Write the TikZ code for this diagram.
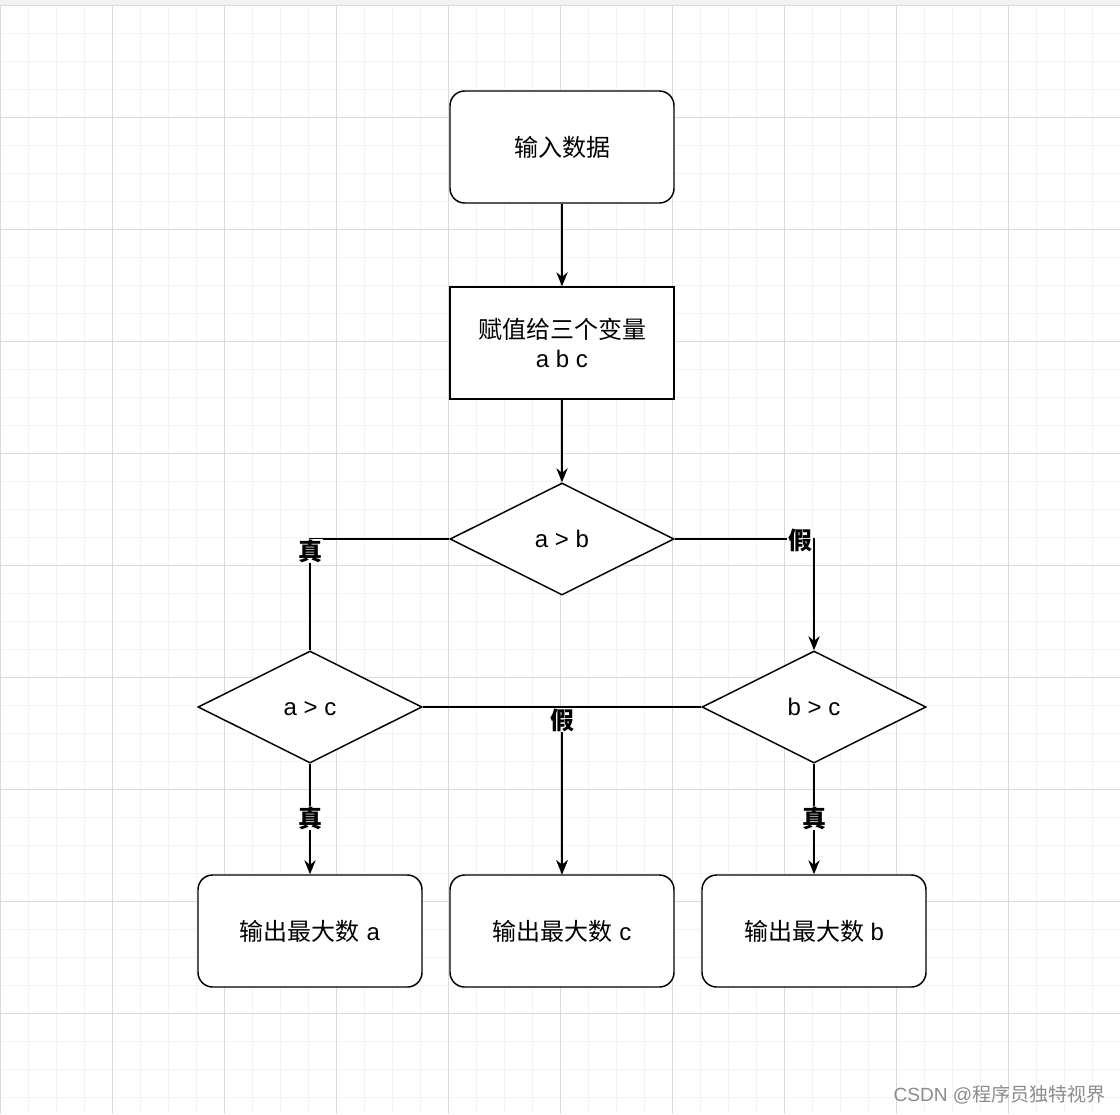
\documentclass[tikz,border=0pt]{standalone}
\usepackage{fontspec}
\setmainfont{Liberation Sans}
\newfontfamily\cjk{Noto Sans CJK SC}
\usetikzlibrary{shapes.geometric,arrows.meta}
\definecolor{minorgrid}{HTML}{F3F3F3}
\definecolor{majorgrid}{HTML}{DADADA}
\definecolor{wm}{HTML}{8C8C8C}
\begin{document}
\begin{tikzpicture}[x=0.75pt,y=-0.75pt,
  base/.style={draw=black, line width=1.1pt, fill=white, font=\fontsize{18pt}{22pt}\selectfont, align=center, inner sep=0pt},
  rbox/.style={base, rectangle, rounded corners=11pt, minimum width=168pt, minimum height=84pt},
  sbox/.style={base, rectangle, minimum width=168pt, minimum height=84pt},
  dbox/.style={base, diamond, aspect=2, minimum width=168pt, minimum height=84pt, text height=14pt, text depth=1.5pt},
  conn/.style={line width=1.1pt, draw=black},
  arr/.style={conn, -{Stealth[length=10.5pt,width=8.5pt]}},
  lab/.style={font=\cjk\bfseries\fontsize{18pt}{22pt}\selectfont, fill=white, inner sep=0.5pt}
]
\useasboundingbox (0,0) rectangle (1120,1114);
\fill[white] (0,0) rectangle (1120,1114);
\fill[black!5] (0,0) rectangle (1120,5);
% grid
\foreach \i in {0,...,40} \draw[minorgrid, line width=0.75pt] (28*\i,5) -- (28*\i,1114);
\foreach \j in {0,...,39} \draw[minorgrid, line width=0.75pt] (0,5+28*\j) -- (1120,5+28*\j);
\foreach \i in {0,...,10} \draw[majorgrid, line width=0.6pt] (112*\i,5) -- (112*\i,1114);
\foreach \j in {0,...,9} \draw[majorgrid, line width=0.6pt] (0,5+112*\j) -- (1120,5+112*\j);

% nodes
\node[rbox] (in) at (562,147) {\cjk 输入数据};
\node[sbox] (as) at (562,343) {\cjk 赋值给三个变量\\a b c};
\node[dbox] (ab) at (562,539) {a \textgreater{} b};
\node[dbox] (ac) at (310,707) {a \textgreater{} c};
\node[dbox] (bc) at (814,707) {b \textgreater{} c};
\node[rbox] (oa) at (310,931) {{\cjk 输出最大数} a};
\node[rbox] (oc) at (562,931) {{\cjk 输出最大数} c};
\node[rbox] (ob) at (814,931) {{\cjk 输出最大数} b};

% connectors
\draw[arr] (in) -- (as);
\draw[arr] (as) -- (ab);
\draw[conn] (ab.west) -| (ac.north);
\draw[arr] (ab.east) -| (bc.north);
\draw[arr] (ac) -- (oa);
\draw[arr] (bc) -- (ob);
\draw[arr] (ac.east) -| (oc.north);
\draw[arr] (bc.west) -| (oc.north);

% labels
\node[lab] (t1) at (310,551) {真};
\node[lab] (f1) at (800,540) {假};
\node[lab] (f2) at (562,720) {假};
\node[lab] (t2) at (310,818) {真};
\node[lab] (t3) at (814,818) {真};

% watermark
\node[anchor=east, text=wm, font=\fontsize{14.3pt}{16pt}\selectfont, inner sep=0pt] (wmk) at (1106,1095) {CSDN @{\cjk 程序员独特视界}};
\end{tikzpicture}
\end{document}
